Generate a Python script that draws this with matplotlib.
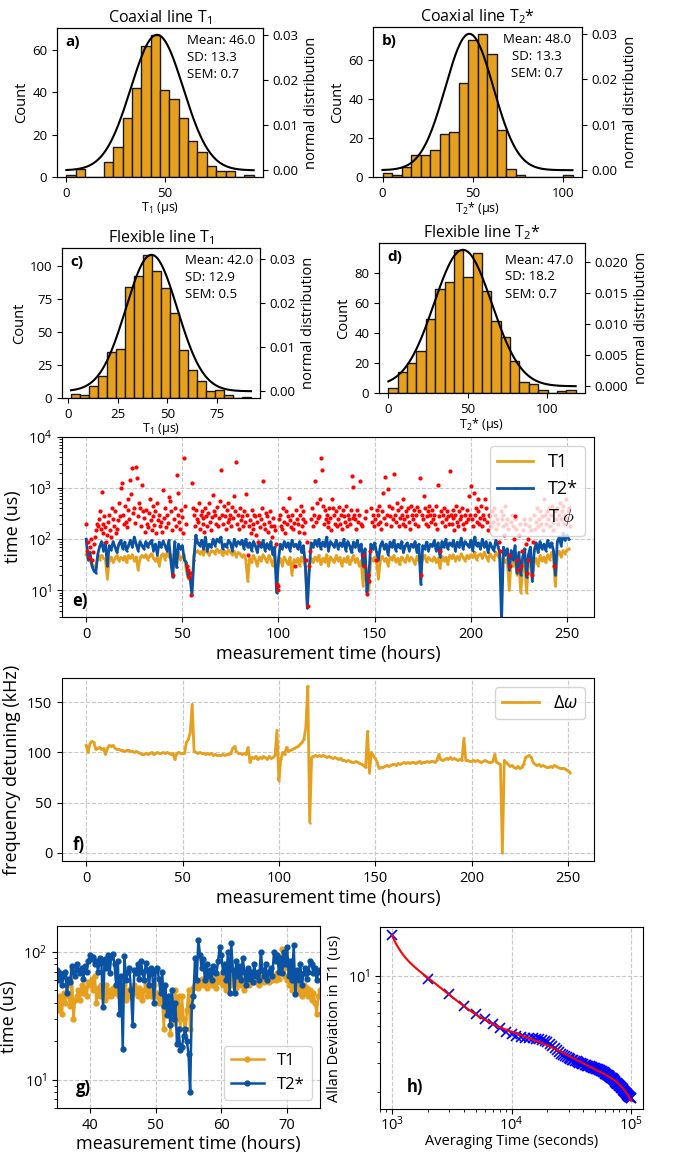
import matplotlib.pyplot as plt
from matplotlib.ticker import MultipleLocator
import numpy as np

plt.rcParams['font.family'] = ['Open Sans', 'DejaVu Sans']
plt.rcParams['mathtext.fontset'] = 'custom'
plt.rcParams['mathtext.rm'] = 'Open Sans'
plt.rcParams['mathtext.it'] = 'Open Sans:italic'
plt.rcParams['mathtext.bf'] = 'Open Sans:bold'
plt.rcParams['font.size'] = 9.5

ORANGE = '#E6A01E'
BLUE = '#0A52A3'

# ---- histograms (bin range, counts per bin) ----
a_range = (0, 95)
a_counts = [1, 4, 0, 0, 7, 14, 28, 42, 62, 67, 41, 37, 28, 17, 12, 5, 3, 3, 0, 1]
b_range = (0, 105)
b_counts = [2, 1, 5, 11, 11, 14, 22, 23, 48, 70, 73, 63, 24, 4, 1, 0, 0, 0, 0, 1]
c_range = (1.6, 91.9)
c_counts = [3, 2, 9, 17, 35, 37, 84, 92, 108, 96, 83, 64, 36, 21, 13, 5, 6, 2, 0, 1]
d_range = (0, 118)
d_counts = [3, 14, 20, 28, 49, 69, 74, 95, 77, 93, 68, 48, 37, 21, 7, 6, 2, 0, 1, 2]

# mean, SD, SEM
a_stats = (46.0, 13.3, 0.7)
b_stats = (48.0, 13.3, 0.7)
c_stats = (42.0, 12.9, 0.5)
d_stats = (47.0, 18.2, 0.7)

# ---- long run, one value per hour ----
t1_hourly = [
    50, 48, 38, 32, 30, 28, 45, 40, 48, 42,
    40, 17, 38, 45, 35, 42, 48, 38, 44, 40,
    46, 35, 48, 42, 50, 38, 45, 25, 42, 48,
    44, 50, 40, 47, 52, 42, 38, 45, 30, 48,
    52, 40, 55, 45, 50, 22, 48, 42, 55, 40,
    45, 50, 25, 17, 22, 12, 50, 55, 60, 52,
    58, 50, 62, 55, 48, 60, 58, 52, 65, 55,
    60, 48, 58, 52, 62, 55, 50, 58, 45, 55,
    52, 45, 50, 40, 15, 42, 35, 48, 40, 30,
    45, 38, 50, 42, 35, 48, 40, 30, 44, 18,
    35, 42, 30, 45, 38, 32, 44, 20, 40, 35,
    42, 30, 45, 38, 28, 5, 30, 42, 35, 45,
    38, 48, 32, 42, 36, 50, 30, 45, 40, 35,
    48, 38, 44, 30, 42, 36, 46, 32, 40, 48,
    35, 42, 30, 38, 12, 40, 20, 10, 42, 38,
    45, 35, 17, 40, 46, 38, 42, 30, 45, 40,
    48, 36, 42, 32, 45, 40, 35, 48, 38, 44,
    40, 32, 46, 38, 30, 42, 48, 36, 44, 40,
    38, 45, 35, 42, 27, 46, 38, 44, 32, 48,
    42, 50, 38, 46, 40, 52, 44, 38, 48, 42,
    50, 44, 55, 40, 48, 52, 42, 56, 46, 38,
    52, 45, 40, 55, 48, 42, 25, 45, 35, 40,
    10, 38, 30, 42, 20, 35, 9, 28, 38, 9,
    30, 40, 18, 35, 42, 30, 48, 38, 45, 35,
    50, 40, 55, 42, 12, 48, 58, 45, 60, 52,
    62, 65]
t2_hourly = [
    100, 40, 55, 30, 24, 22, 50, 72, 90, 60,
    85, 30, 75, 62, 90, 70, 55, 80, 95, 65,
    88, 60, 75, 95, 70, 110, 80, 60, 90, 75,
    65, 90, 70, 85, 95, 60, 80, 50, 88, 70,
    92, 75, 60, 95, 38, 18, 90, 28, 80, 65,
    75, 40, 35, 19, 18, 8, 40, 120, 85, 75,
    95, 65, 110, 60, 80, 70, 100, 75, 100, 90,
    110, 65, 80, 70, 95, 85, 60, 100, 75, 90,
    80, 95, 65, 100, 70, 85, 60, 90, 75, 55,
    88, 70, 95, 60, 82, 65, 90, 50, 70, 9,
    40, 80, 65, 90, 70, 85, 60, 95, 72, 80,
    65, 90, 55, 75, 30, 4.5, 25, 85, 70, 95,
    75, 100, 65, 88, 72, 110, 60, 90, 80, 70,
    95, 65, 85, 72, 100, 60, 90, 75, 55, 88,
    70, 95, 60, 80, 30, 65, 9, 20, 80, 65,
    85, 55, 40, 75, 90, 65, 80, 50, 88, 70,
    95, 60, 80, 68, 90, 55, 75, 85, 60, 80,
    70, 90, 55, 80, 13, 75, 65, 88, 60, 80,
    72, 95, 60, 85, 45, 90, 70, 100, 65, 85,
    75, 95, 60, 88, 70, 105, 65, 90, 80, 70,
    95, 60, 110, 75, 85, 65, 100, 70, 90, 55,
    85, 70, 60, 95, 75, 55, 2.5, 70, 50, 65,
    25, 60, 40, 75, 22, 55, 20, 45, 65, 18,
    50, 70, 15, 60, 85, 55, 90, 65, 80, 60,
    95, 70, 85, 60, 20, 90, 110, 75, 130, 95,
    120, 100]
# T phi, two values per hour
tphi_halfhour = [
    195, 60, 90, 45, 70, 100, 40, 55, 80, 110, 150, 200, 180, 250, 350, 160, 840, 200, 130, 280,
    170, 90, 120, 220, 300, 150, 110, 400, 250, 180, 350, 130, 160, 240, 500, 280, 1000, 1250, 300, 200,
    450, 220, 170, 600, 380, 250, 1470, 780, 2500, 320, 400, 210, 2600, 1600, 280, 500, 415, 180, 1150, 350,
    260, 140, 380, 200, 170, 320, 600, 240, 150, 450, 280, 190, 350, 130, 500, 240, 300, 180, 220, 140,
    930, 260, 400, 170, 300, 210, 670, 560, 350, 150, 20, 250, 400, 180, 1840, 300, 800, 220, 160, 380,
    270, 130, 3800, 450, 200, 30, 25, 18, 22, 8, 1250, 400, 300, 180, 380, 250, 220, 500, 160, 300,
    350, 200, 260, 140, 400, 280, 180, 320, 500, 220, 150, 270, 720, 350, 300, 200, 420, 180, 260, 550,
    2250, 300, 200, 450, 280, 160, 380, 220, 500, 250, 300, 180, 420, 260, 690, 350, 3200, 200, 300, 160,
    400, 240, 280, 180, 350, 220, 780, 300, 50, 180, 240, 130, 380, 200, 160, 300, 280, 120, 220, 90,
    300, 170, 250, 400, 1400, 200, 160, 320, 280, 140, 220, 350, 180, 110, 260, 180, 150, 80, 13, 12,
    10, 250, 300, 180, 160, 400, 220, 130, 350, 200, 280, 650, 240, 170, 300, 160, 210, 30, 380, 250,
    200, 140, 300, 450, 180, 250, 350, 130, 220, 40, 90, 5, 30, 60, 250, 400, 180, 300, 1400, 220,
    500, 260, 280, 600, 3800, 2300, 450, 200, 380, 250, 300, 170, 220, 400, 260, 150, 620, 410, 300, 200,
    350, 180, 250, 420, 200, 300, 160, 380, 280, 220, 450, 180, 300, 250, 200, 380, 1750, 260, 1050, 300,
    250, 160, 380, 220, 300, 1400, 200, 180, 50, 30, 260, 350, 8.5, 20, 15, 60, 400, 220, 300, 180,
    250, 40, 380, 200, 300, 450, 220, 160, 350, 800, 260, 1650, 200, 300, 960, 450, 280, 180, 400, 250,
    1900, 300, 220, 500, 380, 180, 260, 420, 300, 200, 600, 250, 180, 350, 280, 400, 220, 160, 450, 300,
    250, 380, 200, 300, 420, 180, 350, 1580, 20, 300, 250, 690, 400, 200, 280, 350, 180, 450, 300, 220,
    380, 250, 300, 200, 450, 160, 1130, 280, 60, 350, 220, 300, 400, 180, 250, 350, 280, 200, 2200, 300,
    200, 380, 260, 150, 300, 450, 220, 180, 350, 250, 280, 400, 200, 160, 300, 220, 380, 250, 690, 300,
    1100, 250, 180, 800, 300, 400, 220, 600, 350, 200, 260, 450, 180, 300, 250, 600, 400, 220, 150, 300,
    280, 180, 350, 220, 400, 300, 160, 250, 200, 90, 60, 350, 250, 180, 300, 120, 450, 200, 250, 160,
    50, 30, 220, 300, 180, 100, 250, 160, 40, 25, 120, 200, 30, 60, 150, 250, 200, 80, 22, 40,
    100, 180, 250, 150, 20, 90, 300, 160, 220, 400, 180, 250, 350, 200, 280, 150, 600, 300, 200, 350,
    250, 400, 180, 300, 450, 220, 150, 30, 350, 250, 400, 200, 300, 500, 250, 350, 450, 200, 300, 600,
    250, 350, 400, 180]
detuning_hourly = [
    107, 100, 109, 111, 110, 103, 104, 105, 103, 104,
    98, 104, 107, 106, 107, 104, 103, 103, 102, 102,
    101, 102, 102, 101, 101, 100, 101, 100, 99, 98,
    98, 99, 98, 99, 100, 98, 99, 100, 99, 99,
    100, 99, 100, 99, 98, 99, 93, 99, 100, 99,
    99, 99, 110, 113, 120, 148, 101, 100, 99, 100,
    99, 99, 98, 99, 98, 99, 97, 98, 97, 97,
    97, 98, 97, 98, 98, 99, 104, 106, 101, 99,
    99, 98, 99, 98, 105, 90, 95, 94, 96, 93,
    95, 94, 96, 95, 93, 96, 94, 95, 97, 122,
    72, 93, 100, 98, 105, 101, 102, 103, 104, 105,
    106, 108, 110, 113, 125, 166, 30, 95, 96, 97,
    96, 97, 96, 97, 96, 95, 96, 95, 94, 95,
    94, 93, 94, 92, 92, 91, 92, 91, 90, 90,
    91, 90, 89, 88, 87, 85, 121, 80, 100, 97,
    94, 90, 84, 85, 85, 86, 87, 86, 87, 88,
    88, 87, 89, 88, 89, 90, 89, 90, 89, 90,
    90, 89, 90, 91, 89, 90, 90, 91, 90, 91,
    91, 90, 92, 98, 93, 92, 93, 94, 93, 95,
    93, 94, 93, 92, 93, 92, 114, 92, 92, 91,
    91, 92, 91, 92, 91, 90, 91, 92, 91, 90,
    90, 91, 98, 90, 89, 88, 0, 92, 90, 88,
    86, 87, 85, 84, 86, 84, 85, 88, 95, 96,
    97, 95, 90, 88, 87, 88, 86, 87, 86, 85,
    85, 86, 85, 87, 86, 85, 84, 84, 84, 83,
    82, 80]

# ---- zoom 35-75 h, one value per 15 min ----
zoom_start = 35
t1_zoom = [
    42, 35, 45, 33, 48, 40, 55, 45, 38, 73, 30, 42, 45, 50, 42, 55,
    48, 52, 45, 58, 55, 62, 50, 65, 40, 52, 45, 55, 48, 42, 55, 45,
    50, 45, 52, 48, 55, 50, 45, 52, 48, 55, 42, 50, 45, 52, 48, 55,
    50, 45, 52, 48, 42, 50, 55, 45, 52, 45, 48, 55, 45, 48, 40, 50,
    42, 25, 45, 38, 45, 23, 35, 28, 50, 30, 45, 25, 45, 30, 22, 35,
    50, 25, 45, 52, 55, 60, 52, 58, 62, 55, 60, 52, 58, 62, 55, 65,
    60, 52, 62, 58, 65, 55, 62, 50, 58, 65, 55, 62, 60, 52, 58, 65,
    55, 62, 50, 58, 60, 55, 62, 58, 65, 58, 62, 55, 60, 65, 58, 62,
    62, 58, 65, 60, 65, 60, 68, 62, 70, 105, 75, 65, 60, 55, 62, 50,
    58, 52, 55, 48, 50, 45, 55, 48, 52, 45, 50, 42, 48, 40, 33, 45,
    50]
t2_zoom = [
    72, 60, 68, 55, 65, 70, 48, 62, 58, 78, 70, 65, 80, 72, 68, 75,
    62, 78, 70, 85, 95, 88, 92, 80, 85, 70, 90, 82, 37, 88, 75, 95,
    68, 92, 96, 80, 55, 85, 33, 65, 17.5, 93, 60, 70, 75, 50, 27, 72,
    68, 80, 62, 85, 70, 60, 82, 72, 55, 75, 68, 40, 72, 75, 62, 48,
    70, 38, 55, 32, 45, 27, 50, 30, 40, 19, 25, 17, 18, 22, 25, 20,
    16, 8, 38, 45, 90, 60, 125, 95, 75, 88, 60, 80, 65, 72, 60, 78,
    70, 68, 85, 110, 95, 70, 80, 60, 100, 48, 117, 72, 48, 85, 65, 78,
    60, 90, 70, 55, 75, 62, 70, 58, 80, 65, 70, 60, 101, 72, 65, 80,
    60, 70, 75, 65, 100, 85, 95, 70, 90, 68, 100, 80, 110, 65, 85, 60,
    113, 47, 72, 60, 80, 55, 68, 75, 62, 70, 85, 80, 68, 75, 60, 70,
    72]

# ---- Allan deviation of T1 ----
tau_step = 1000
allan_dev = [
    17.5, 9.6, 7.8, 6.6, 5.9, 5.5, 5.15, 4.85, 4.6, 4.45,
    4.35, 4.3, 4.25, 4.2, 4.2, 4.18, 4.15, 4.1, 4.05, 4.0,
    3.9, 3.8, 3.7, 3.6, 3.5, 3.4, 3.35, 3.3, 3.25, 3.2,
    3.15, 3.12, 3.1, 3.08, 3.05, 3.02, 3.0, 2.98, 2.96, 2.94,
    2.92, 2.9, 2.88, 2.86, 2.85, 2.84, 2.82, 2.8, 2.78, 2.77,
    2.76, 2.75, 2.74, 2.72, 2.7, 2.68, 2.66, 2.64, 2.62, 2.6,
    2.58, 2.56, 2.54, 2.52, 2.5, 2.48, 2.46, 2.44, 2.42, 2.4,
    2.38, 2.35, 2.33, 2.3, 2.28, 2.26, 2.24, 2.22, 2.2, 2.18,
    2.16, 2.14, 2.12, 2.1, 2.08, 2.06, 2.04, 2.02, 2.0, 1.98,
    1.97, 1.95, 1.93, 1.92, 1.9, 1.88, 1.87, 1.86, 1.85, 1.83]

W, H = 673, 1155
fig = plt.figure(figsize=(W / 100, H / 100), dpi=100)


def rect(x0, x1, y0, y1):
    # pixel box -> figure fraction
    return [x0 / W, 1 - y1 / H, (x1 - x0) / W, (y1 - y0) / H]


def hist_panel(box, rng, counts, stats, title, xlabel, letter, tx, ty, align, step):
    ax = fig.add_axes(box)
    edges = np.linspace(rng[0], rng[1], len(counts) + 1)
    ax.hist(edges[:-1], bins=edges, weights=counts, color=ORANGE,
            edgecolor='#1a1a1a', linewidth=1)
    ax.set_title(title, fontsize=11.5, pad=4)
    ax.set_ylabel('Count', fontsize=10.5, labelpad=2)
    ax.set_xlabel(xlabel, fontsize=9, labelpad=0)
    ax.xaxis.set_major_locator(MultipleLocator(step))
    mean, sd, sem = stats
    ax2 = ax.twinx()
    x = np.linspace(rng[0], rng[1], 300)
    pdf = np.exp(-0.5 * ((x - mean) / sd) ** 2) / (sd * np.sqrt(2 * np.pi))
    ax2.plot(x, pdf, color='black', lw=1.5)
    ax2.set_ylabel('normal distribution', fontsize=10.5)
    ax.text(0.04, 0.95, letter, transform=ax.transAxes, fontsize=11,
            fontweight='bold', va='top', ha='left')
    ax.text(tx, ty, f'Mean: {mean:.1f}\nSD: {sd:.1f}\nSEM: {sem:.1f}',
            transform=ax.transAxes, va='top', ha=align, multialignment=align,
            fontsize=9.5, linespacing=1.4, zorder=5)
    return ax


hist_panel(rect(57, 263, 28, 177), a_range, a_counts, a_stats,
           'Coaxial line T$_1$', 'T$_1$ (µs)', 'a)', 0.63, 0.96, 'left', 50)
hist_panel(rect(373, 582, 27, 177), b_range, b_counts, b_stats,
           'Coaxial line T$_2$*', 'T$_2$* (µs)', 'b)', 0.785, 0.96, 'center', 50)
hist_panel(rect(62, 260, 248, 398), c_range, c_counts, c_stats,
           'Flexible line T$_1$', 'T$_1$ (µs)', 'c)', 0.62, 0.96, 'left', 25)
hist_panel(rect(379, 585, 243, 393), d_range, d_counts, d_stats,
           'Flexible line T$_2$*', 'T$_2$* (µs)', 'd)', 0.61, 0.93, 'left', 50)

grid_kw = dict(color='#c8c8c8', linestyle='--', linewidth=0.8)

# ---- e) long run ----
ax = fig.add_axes(rect(62, 594, 437, 617))
t_h = np.arange(len(t1_hourly))
ax.plot(t_h, t1_hourly, color=ORANGE, lw=2, marker='+', ms=2, label='T1')
ax.plot(np.arange(len(t2_hourly)), t2_hourly, color=BLUE, lw=2, marker='+',
        ms=2, label='T2*')
ax.plot(np.arange(len(tphi_halfhour)) * 0.5, tphi_halfhour, 'o', color='red',
        ms=2, ls='none', label='T $\\phi$')
ax.set_yscale('log')
ax.set_ylim(3, 1e4)
ax.grid(True, **grid_kw)
ax.set_xlabel('measurement time (hours)', fontsize=13, labelpad=2)
ax.set_ylabel('time (us)', fontsize=13)
ax.tick_params(labelsize=10.5)
ax.legend(loc='upper right', fontsize=13)
ax.text(0.02, 0.04, 'e)', transform=ax.transAxes, fontsize=12,
        fontweight='bold', va='bottom')

# ---- f) detuning ----
ax = fig.add_axes(rect(62, 594, 678, 861))
ax.plot(np.arange(len(detuning_hourly)), detuning_hourly, color=ORANGE, lw=2,
        marker='+', ms=2, label='$\\Delta\\omega$')
ax.grid(True, **grid_kw)
ax.set_xlabel('measurement time (hours)', fontsize=13, labelpad=2)
ax.set_ylabel('frequency detuning (kHz)', fontsize=13)
ax.tick_params(labelsize=10.5)
ax.legend(loc='upper right', fontsize=13)
ax.text(0.02, 0.04, 'f)', transform=ax.transAxes, fontsize=12,
        fontweight='bold', va='bottom')

# ---- g) zoom ----
ax = fig.add_axes(rect(57, 320, 926, 1108))
tz = zoom_start + np.arange(len(t1_zoom)) * 0.25
ax.plot(tz, t1_zoom, color=ORANGE, lw=1.8, marker='o', ms=3.5, label='T1')
ax.plot(zoom_start + np.arange(len(t2_zoom)) * 0.25, t2_zoom, color=BLUE,
        lw=1.8, marker='o', ms=3.5, label='T2*')
ax.set_yscale('log')
ax.set_xlim(35, 75)
ax.set_ylim(6, 160)
ax.grid(True, **grid_kw)
ax.set_xlabel('measurement time (hours)', fontsize=13, labelpad=2)
ax.set_ylabel('time (us)', fontsize=13)
ax.tick_params(labelsize=10.5)
ax.legend(loc='lower right', fontsize=12)
ax.text(0.07, 0.06, 'g)', transform=ax.transAxes, fontsize=12,
        fontweight='bold', va='bottom')

# ---- h) Allan deviation ----
ax = fig.add_axes(rect(380, 643, 927, 1109))
tau = tau_step * np.arange(1, len(allan_dev) + 1)
ax.plot(tau, allan_dev, 'x', color='blue', ms=7, mew=1.2, ls='none')
coef = np.polyfit(np.log10(tau), np.log10(allan_dev), 7)
fit_tau = np.logspace(np.log10(tau[0]), np.log10(tau[-1]), 300)
ax.plot(fit_tau, 10 ** np.polyval(coef, np.log10(fit_tau)), color='red', lw=1.5)
ax.set_xscale('log')
ax.set_yscale('log')
ax.grid(True, **grid_kw)
ax.tick_params(labelsize=10.5)
ax.tick_params(axis='x', pad=1)
ax.set_xlabel('Averaging Time (seconds)', fontsize=10.5, labelpad=0)
ax.set_ylabel('Allan Deviation in T1 (us)', fontsize=10.5)
ax.text(0.1, 0.07, 'h)', transform=ax.transAxes, fontsize=12,
        fontweight='bold', va='bottom')

fig.savefig('out.png', dpi=100)
